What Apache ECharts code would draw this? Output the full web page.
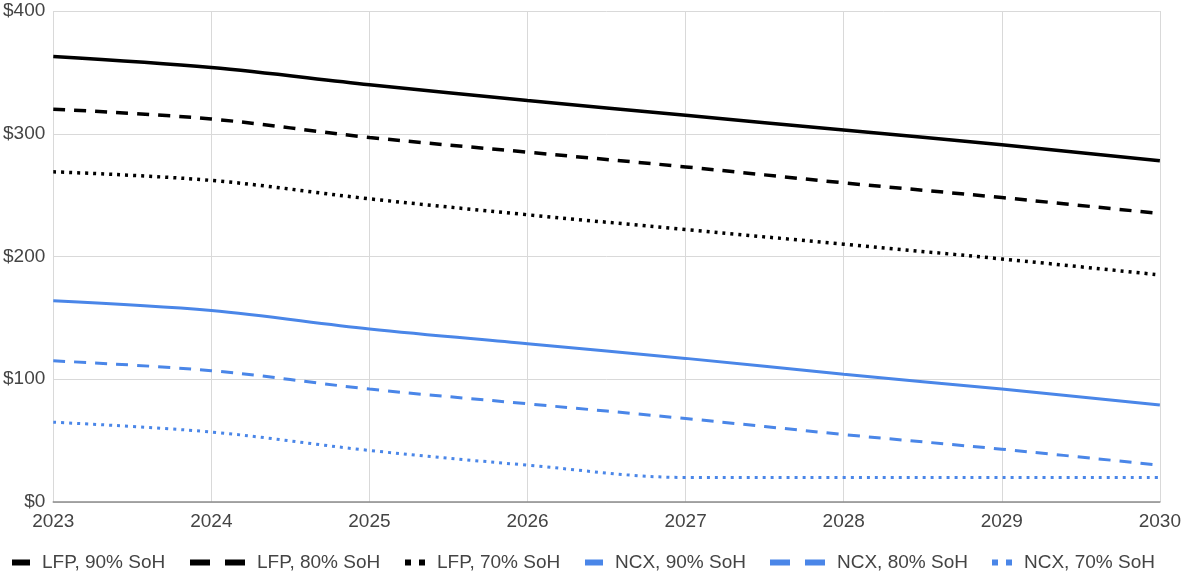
<!DOCTYPE html>
<html>
<head>
<meta charset="utf-8">
<script src="https://cdn.jsdelivr.net/npm/echarts@6/dist/echarts.min.js"></script>
<style>
  html, body { margin: 0; padding: 0; background: #fff; }
  #chart { width: 1184px; height: 572px; }
</style>
</head>
<body>
<div id="chart"></div>
<script>
// Years on the horizontal axis
const years = ['2023', '2024', '2025', '2026', '2027', '2028', '2029', '2030'];

// Values in dollars per series
const lfp90 = [363, 354, 340, 327, 315, 303, 291, 278];
const lfp80 = [320, 312, 297, 285, 273, 260, 248, 235];
const lfp70 = [269, 262, 247, 234, 222, 210, 198, 185];
const ncx90 = [164, 156, 141, 129, 117, 104, 92, 79];
const ncx80 = [115, 107, 92, 80, 68, 55, 43, 30];
const ncx70 = [65, 57, 42, 30, 20, 20, 20, 20];

const seriesNames = ['LFP, 90% SoH', 'LFP, 80% SoH', 'LFP, 70% SoH',
                     'NCX, 90% SoH', 'NCX, 80% SoH', 'NCX, 70% SoH'];

const BLACK = '#000000';
const BLUE = '#4a86e8';
const FONT = 'Liberation Sans, Arial, sans-serif';
const FONT_SIZE = 19;

function lineSeries(name, data, color, width, type) {
  return {
    name: name,
    type: 'line',
    data: data,
    smooth: 0.35,
    showSymbol: false,
    symbol: 'none',
    color: color,
    lineStyle: { color: color, width: width, type: type, cap: 'butt' },
    emphasis: { disabled: true }
  };
}

// Legend icons: solid bar, two dashes, two dots
const ICON_SOLID = 'path://M0,0h18v6h-18z';
const ICON_DASH = 'path://M0,0h20v6h-20zM35,0h20v6h-20z';
const ICON_DOT = 'path://M0,0h6v6h-6zM14,0h6v6h-6z';

function legendItem(name, left, icon, w) {
  return {
    show: true,
    left: left,
    top: 553,
    orient: 'horizontal',
    padding: 0,
    selectedMode: false,
    data: [{ name: name, icon: icon }],
    itemWidth: w,
    itemHeight: 6,
    itemStyle: { borderWidth: 0 },
    textStyle: { fontFamily: FONT, fontSize: FONT_SIZE, color: '#444', padding: [0, 0, 0, 7] }
  };
}

const chart = echarts.init(document.getElementById('chart'), null, { renderer: 'canvas' });

chart.setOption({
  animation: false,
  backgroundColor: '#ffffff',
  grid: { left: 52, right: 22, top: 11, bottom: 70, containLabel: false },
  legend: [
    legendItem(seriesNames[0], 12, ICON_SOLID, 18),
    legendItem(seriesNames[1], 190, ICON_DASH, 55),
    legendItem(seriesNames[2], 405, ICON_DOT, 20),
    legendItem(seriesNames[3], 585, ICON_SOLID, 18),
    legendItem(seriesNames[4], 770, ICON_DASH, 55),
    legendItem(seriesNames[5], 992, ICON_DOT, 20)
  ],
  xAxis: {
    type: 'category',
    data: years,
    boundaryGap: false,
    axisLine: { show: true, lineStyle: { color: '#8c8c8c', width: 1.5 } },
    axisTick: { show: false },
    axisLabel: { fontFamily: FONT, fontSize: FONT_SIZE, color: '#444', margin: 10 },
    splitLine: { show: true, lineStyle: { color: '#d9d9d9', width: 1 } }
  },
  yAxis: {
    type: 'value',
    min: 0,
    max: 400,
    interval: 100,
    axisLine: { show: false },
    axisTick: { show: false },
    axisLabel: {
      fontFamily: FONT, fontSize: FONT_SIZE, color: '#444', margin: 8,
      formatter: v => '$' + v
    },
    splitLine: { show: true, lineStyle: { color: '#d9d9d9', width: 1 } }
  },
  series: [
    lineSeries(seriesNames[0], lfp90, BLACK, 3.5, 'solid'),
    lineSeries(seriesNames[1], lfp80, BLACK, 3.5, [12, 9]),
    lineSeries(seriesNames[2], lfp70, BLACK, 3.5, [3, 5]),
    lineSeries(seriesNames[3], ncx90, BLUE, 3, 'solid'),
    lineSeries(seriesNames[4], ncx80, BLUE, 3, [12, 9]),
    lineSeries(seriesNames[5], ncx70, BLUE, 3, [3, 5])
  ]
});
</script>
</body>
</html>
